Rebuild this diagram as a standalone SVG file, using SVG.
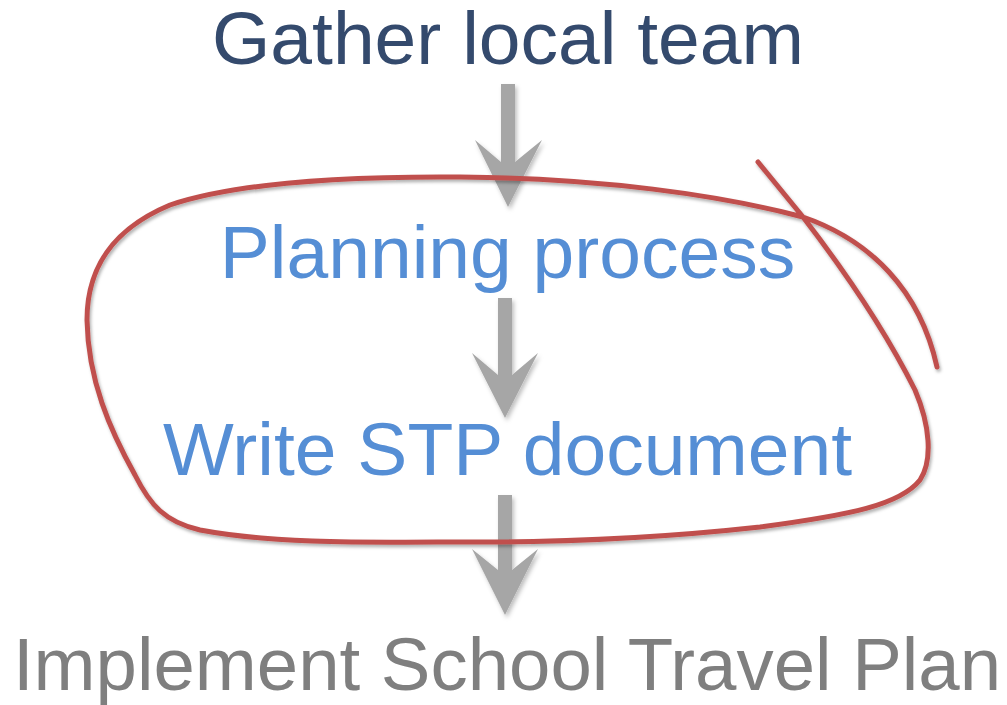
<svg xmlns="http://www.w3.org/2000/svg" width="1007" height="705" viewBox="0 0 1007 705">
  <style>
    .t { font-family: "Liberation Sans", Arial, sans-serif; font-size: 75px; text-anchor: middle; }
    .navy { fill: #344A6D; }
    .blue { fill: #558ED5; }
    .gray { fill: #7F7F7F; }
    .arrow { fill: #A6A6A6; filter: url(#sh); }
    .loop { fill: none; stroke: #C0504D; stroke-width: 5; stroke-linecap: round; stroke-linejoin: round; filter: url(#sh2); }
  </style>
  <defs>
    <filter id="sh" x="-30%" y="-30%" width="160%" height="160%">
      <feDropShadow dx="2" dy="3" stdDeviation="2" flood-color="#000" flood-opacity="0.25"/>
    </filter>
    <filter id="sh2" x="-10%" y="-10%" width="120%" height="120%">
      <feDropShadow dx="1.5" dy="2.5" stdDeviation="1.5" flood-color="#000" flood-opacity="0.3"/>
    </filter>
  </defs>
  <rect width="1007" height="705" fill="#FFFFFF"/>

  <g id="connectors">
    <polygon class="arrow" points="501,84 515,84 515,162 542,140 508,207 475,140 501,162"/>
    <polygon class="arrow" points="498,298 512,298 512,375 538,353 505,418 472,353 498,375"/>
    <polygon class="arrow" points="498,495 512,495 512,570 538,549 505,615 472,549 498,570"/>
  </g>

  <g id="node-gather">
    <text class="t navy" x="508" y="64">Gather local team</text>
  </g>
  <g id="node-planning">
    <text class="t blue" x="507.5" y="278">Planning process</text>
  </g>
  <g id="node-write">
    <text class="t blue" x="507.5" y="475">Write STP document</text>
  </g>
  <g id="node-implement">
    <text class="t gray" x="507" y="690" style="font-size:74.4px">Implement School Travel Plan</text>
  </g>

  <g id="annotation">
    <path class="loop" d="M758,162 L803,217 C840,265 885,330 915,390 C930,425 933,460 920,480 C900,505 850,515 760,527 C660,538 560,542 480,542 C380,542 280,545 200,530 C165,522 150,505 135,475 C110,430 88,380 87,320 C87,270 110,230 170,205 C230,185 330,176 460,177 C600,178 720,195 803,217 C870,240 920,290 937,367"/>
  </g>
</svg>
